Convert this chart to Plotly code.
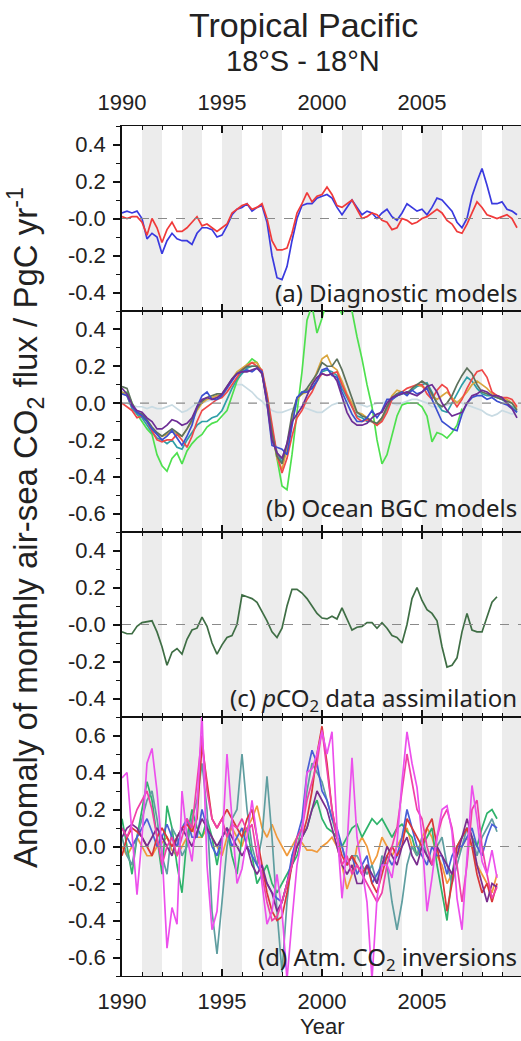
import numpy as np
import plotly.graph_objects as go
from plotly.subplots import make_subplots

# ---------------- data (quarterly) ----------------
start_year = 1990.0
step = 0.25
shade_years = list(range(1991, 2010, 2))
x_tick_years = [1990, 1995, 2000, 2005]
x_tick_text = ["1990", "1995", "2000", "2005"]

# (a) Diagnostic models
a_blue = [0.03, 0.04, 0.03, 0.04, 0.0, -0.11, -0.08, -0.1, -0.19, -0.12, -0.08, -0.11,
          -0.12, -0.12, -0.14, -0.08, -0.05, -0.05, -0.06, -0.1, -0.09, -0.04, 0.02, 0.05,
          0.06, 0.08, 0.04, 0.06, 0.07, -0.02, -0.2, -0.32, -0.33, -0.26, -0.12, 0.0,
          0.07, 0.08, 0.08, 0.11, 0.12, 0.13, 0.11, 0.06, 0.02, 0.06, 0.1, 0.06,
          0.02, 0.04, 0.03, 0.0, 0.03, 0.05, 0.01, -0.01, 0.03, 0.08, 0.06, 0.04,
          0.05, 0.02, 0.06, 0.11, 0.1, 0.07, 0.04, -0.02, -0.05, 0.0, 0.12, 0.2,
          0.27, 0.18, 0.08, 0.08, 0.09, 0.05, 0.04, 0.02]
a_red = [0.01, 0.0, 0.01, 0.01, -0.02, -0.09, 0.0, -0.05, -0.13, -0.06, -0.02, -0.07,
         -0.07, -0.05, -0.02, 0.01, -0.04, -0.03, -0.05, -0.07, -0.05, -0.03, 0.03, 0.05,
         0.07, 0.08, 0.05, 0.06, 0.08, 0.0, -0.12, -0.17, -0.17, -0.16, -0.08, 0.03,
         0.08, 0.14, 0.09, 0.12, 0.13, 0.17, 0.13, 0.07, 0.06, 0.08, 0.1, 0.05,
         0.0, 0.01, 0.03, 0.02, -0.01, -0.02, -0.06, -0.05, 0.0, -0.01, -0.03, -0.02,
         0.0, 0.01, 0.03, 0.05, 0.03, -0.01, -0.03, -0.07, -0.08, -0.03, 0.03, 0.09,
         0.06, 0.02, 0.01, 0.0, 0.01, 0.02, 0.0, -0.05]

# (b) Ocean BGC models
b_pale = [0.0, 0.0, -0.01, -0.02, -0.02, -0.03, -0.02, -0.03, -0.03, -0.02, -0.01, -0.03,
          -0.05, -0.04, -0.02, 0.0, 0.0, 0.01, 0.02, 0.03, 0.04, 0.06, 0.08, 0.1,
          0.1, 0.08, 0.06, 0.03, 0.01, -0.02, -0.04, -0.05, -0.05, -0.04, -0.03, -0.02,
          -0.02, -0.03, -0.04, -0.05, -0.05, -0.03, -0.01, 0.0, 0.0, 0.01, 0.0, 0.0,
          -0.01, -0.02, -0.01, 0.0, 0.0, 0.01, 0.0, -0.01, 0.0, 0.01, 0.02, 0.02,
          0.01, 0.0, -0.02, -0.02, -0.02, -0.01, 0.0, 0.01, 0.0, -0.01, -0.02, -0.03,
          -0.04, -0.06, -0.07, -0.06, -0.04, -0.05, -0.06, -0.05]
b_green = [0.05, 0.06, 0.0, -0.06, -0.1, -0.14, -0.17, -0.28, -0.34, -0.37, -0.3, -0.27,
           -0.33, -0.26, -0.22, -0.19, -0.17, -0.13, -0.11, -0.1, -0.07, -0.04, 0.04, 0.12,
           0.17, 0.21, 0.24, 0.22, 0.17, 0.04, -0.15, -0.3, -0.45, -0.47, -0.28, -0.05,
           0.17, 0.45, 0.53, 0.38, 0.46, 0.56, 0.6, 0.55, 0.48, 0.56, 0.5, 0.36,
           0.24, 0.1, -0.02, -0.2, -0.33, -0.28, -0.18, -0.07, -0.01, 0.0, 0.0, 0.0,
           -0.02, -0.07, -0.21, -0.16, -0.17, -0.19, -0.16, -0.12, -0.03, None, None, None,
           None, None, None, None, None, None, None, None]
b_blue = [0.05, 0.04, -0.02, -0.05, -0.07, -0.1, -0.14, -0.17, -0.2, -0.18, -0.15, -0.19,
          -0.23, -0.18, -0.12, -0.02, 0.04, 0.06, 0.02, 0.02, 0.04, 0.08, 0.12, 0.16,
          0.17, 0.18, 0.17, 0.19, 0.17, 0.0, -0.23, -0.24, -0.25, -0.28, -0.12, 0.03,
          0.06, 0.06, 0.08, 0.12, 0.18, 0.19, 0.15, 0.14, 0.06, 0.0, -0.06, -0.1,
          -0.1, -0.08, -0.04, -0.08, -0.04, 0.02, 0.02, 0.04, 0.06, 0.04, 0.07, 0.05,
          0.06, 0.08, 0.02, -0.04, -0.1, -0.12, -0.14, -0.15, -0.06, 0.0, 0.03, 0.04,
          0.04, 0.02, 0.03, 0.01, 0.0, -0.01, -0.03, -0.05]
b_red = [0.0, -0.02, -0.04, -0.08, -0.07, -0.1, -0.15, -0.2, -0.21, -0.2, -0.2, -0.17,
         -0.2, -0.24, -0.18, -0.1, -0.04, -0.02, 0.0, 0.02, 0.03, 0.06, 0.1, 0.14,
         0.18, 0.2, 0.22, 0.2, 0.18, 0.05, -0.12, -0.28, -0.38, -0.3, -0.18, -0.08,
         -0.04, 0.02, 0.06, 0.12, 0.16, 0.15, 0.16, 0.17, 0.1, 0.04, -0.02, -0.08,
         -0.1, -0.09, -0.1, -0.12, -0.1, -0.05, 0.02, 0.05, 0.06, 0.08, 0.09, 0.1,
         0.1, 0.05, 0.02, 0.07, 0.1, 0.08, 0.02, -0.02, 0.02, 0.08, 0.13, 0.17,
         0.18, 0.14, 0.06, 0.04, 0.03, 0.03, 0.02, -0.02]
b_orange = [0.06, 0.04, -0.02, -0.05, -0.06, -0.1, -0.14, -0.17, -0.18, -0.17, -0.15, -0.17,
            -0.18, -0.14, -0.1, -0.04, 0.0, 0.02, 0.03, 0.04, 0.04, 0.08, 0.13, 0.17,
            0.19, 0.21, 0.22, 0.22, 0.17, 0.03, -0.15, -0.3, -0.36, -0.25, -0.08, 0.02,
            0.05, 0.06, 0.1, 0.17, 0.24, 0.26, 0.2, 0.18, 0.12, 0.05, 0.0, -0.05,
            -0.06, -0.08, -0.1, -0.12, -0.08, -0.02, 0.04, 0.07, 0.06, 0.05, 0.08, 0.1,
            0.09, 0.08, 0.04, 0.02, 0.04, 0.06, 0.03, 0.0, 0.03, 0.06, 0.1, 0.12,
            0.1, 0.08, 0.05, 0.04, 0.03, 0.02, 0.0, -0.03]
b_purple = [0.08, 0.05, -0.01, -0.04, -0.05, -0.08, -0.1, -0.14, -0.14, -0.12, -0.09, -0.1,
            -0.12, -0.11, -0.08, -0.02, 0.02, 0.03, 0.02, 0.03, 0.05, 0.09, 0.13, 0.16,
            0.17, 0.17, 0.18, 0.19, 0.16, 0.0, -0.2, -0.27, -0.3, -0.22, -0.1, -0.06,
            -0.02, 0.04, 0.1, 0.14, 0.16, 0.15, 0.16, 0.12, 0.04, -0.05, -0.1, -0.12,
            -0.12, -0.11, -0.08, -0.06, -0.05, 0.0, 0.03, 0.04, 0.05, 0.06, 0.05, 0.04,
            0.06, 0.09, 0.1, 0.06, 0.0, -0.04, -0.07, -0.06, -0.05, 0.0, 0.04, 0.05,
            0.07, 0.06, 0.04, 0.04, 0.03, 0.0, -0.03, -0.08]
b_dkgray = [0.09, 0.08, 0.0, -0.05, -0.06, -0.09, -0.13, -0.16, -0.18, -0.16, -0.14, -0.16,
            -0.18, -0.14, -0.09, -0.03, 0.01, 0.03, 0.04, 0.05, 0.05, 0.09, 0.13, 0.16,
            0.18, 0.2, 0.2, 0.2, 0.16, 0.02, -0.16, -0.29, -0.33, -0.22, -0.06, 0.03,
            0.05, 0.08, 0.12, 0.16, 0.22, 0.2, 0.2, 0.24, 0.18, 0.1, 0.02, -0.05,
            -0.07, -0.08, -0.1, -0.11, -0.08, -0.02, 0.03, 0.05, 0.06, 0.05, 0.08, 0.1,
            0.12, 0.1, 0.05, 0.0, -0.02, 0.0, 0.04, 0.1, 0.15, 0.19, 0.16, 0.1,
            0.06, 0.05, 0.04, 0.03, 0.02, 0.01, 0.0, -0.04]
b_teal = [0.06, 0.04, -0.03, -0.06, -0.08, -0.12, -0.16, -0.19, -0.2, -0.22, -0.2, -0.24,
          -0.25, -0.2, -0.16, -0.12, -0.1, -0.1, -0.08, -0.07, -0.04, 0.02, 0.08, 0.13,
          0.16, 0.19, 0.2, 0.2, 0.16, 0.02, -0.15, -0.27, -0.32, -0.25, -0.1, 0.02,
          0.06, 0.07, 0.08, 0.12, 0.17, 0.18, 0.17, 0.15, 0.08, 0.03, -0.02, -0.07,
          -0.08, -0.1, -0.1, -0.12, -0.09, -0.03, 0.02, 0.04, 0.05, 0.06, 0.07, 0.09,
          0.1, 0.11, 0.06, 0.0, -0.04, -0.05, 0.0, 0.05, 0.1, 0.14, 0.12, 0.08,
          0.05, 0.04, 0.04, 0.03, 0.02, 0.0, -0.02, -0.05]

# (c) pCO2 data assimilation
c_green = [-0.04, -0.05, -0.05, -0.01, 0.01, 0.015, 0.02, -0.04, -0.12, -0.22, -0.15, -0.13,
           -0.16, -0.08, -0.03, -0.02, 0.04, -0.01, -0.1, -0.16, -0.11, -0.07, -0.06, 0.0,
           0.16, 0.15, 0.14, 0.12, 0.07, 0.02, -0.04, -0.07, -0.02, 0.1, 0.19, 0.19,
           0.17, 0.14, 0.1, 0.06, 0.035, 0.03, 0.045, 0.03, 0.09, 0.03, -0.03, -0.015,
           -0.01, 0.01, 0.01, -0.02, 0.01, -0.02, -0.06, -0.07, -0.1, 0.0, 0.14, 0.2,
           0.13, 0.08, 0.06, 0.02, -0.12, -0.23, -0.22, -0.18, -0.04, 0.06, -0.03, -0.04,
           -0.04, 0.04, 0.12, 0.15, None, None, None, None]

# (d) Atmospheric CO2 inversions
d_teal = [0.05, -0.05, -0.1, 0.05, 0.15, 0.25, 0.3, 0.15, -0.05, -0.15, 0.1, 0.05,
          -0.05, 0.0, 0.15, 0.25, 0.45, 0.2, -0.35, -0.58, -0.3, 0.0, 0.15, 0.2,
          0.5, 0.2, 0.0, -0.1, 0.05, 0.38, 0.05, -0.35, -0.68, -0.3, -0.05, 0.0,
          0.1, 0.3, 0.45, 0.4, 0.35, 0.25, 0.15, 0.05, 0.0, -0.1, -0.05, -0.05,
          -0.1, -0.15, -0.1, -0.2, -0.05, -0.1, -0.3, -0.45, -0.3, -0.1, 0.0, -0.05,
          0.05, -0.05, -0.1, 0.0, 0.05, -0.1, -0.2, -0.1, 0.0, 0.1, 0.05, -0.05,
          0.05, 0.1, 0.15, 0.08]
d_green = [0.15, 0.0, -0.15, 0.05, 0.2, 0.35, 0.25, 0.05, -0.15, 0.22, 0.1, -0.1,
           -0.25, 0.05, 0.2, 0.1, 0.05, 0.15, 0.05, -0.1, 0.05, 0.1, -0.05, -0.15,
           0.05, 0.1, -0.05, -0.2, -0.15, -0.1, -0.2, -0.25, -0.2, -0.15, -0.1, -0.05,
           0.05, 0.1, 0.2, 0.25, 0.15, 0.1, 0.08, 0.05, 0.0, 0.05, 0.1, 0.12,
           0.05, 0.1, 0.15, 0.12, 0.15, 0.1, 0.05, 0.1, 0.12, 0.08, 0.05, -0.05,
           0.0, 0.05, 0.1, -0.1, -0.25, -0.4, -0.15, 0.0, 0.05, 0.1, 0.05, 0.0,
           0.1, 0.18, 0.2, 0.15]
d_blue = [0.1, 0.05, 0.0, 0.05, 0.1, 0.15, 0.08, 0.0, 0.05, 0.12, 0.05, 0.0,
          0.1, 0.15, 0.05, 0.05, 0.2, 0.1, 0.0, -0.05, 0.05, 0.1, 0.0, 0.05,
          0.1, 0.0, -0.05, -0.1, -0.15, -0.2, -0.25, -0.28, -0.3, -0.2, -0.05, 0.05,
          0.15, 0.4, 0.52, 0.45, 0.3, 0.25, 0.15, 0.1, 0.0, -0.1, -0.05, -0.15,
          -0.1, -0.05, -0.2, -0.15, -0.1, -0.05, -0.1, -0.05, 0.05, 0.2, 0.1, 0.0,
          -0.05, -0.1, 0.0, -0.05, -0.05, -0.15, -0.05, 0.0, 0.0, 0.05, 0.1, 0.0,
          -0.05, 0.05, 0.12, 0.1]
d_orange = [0.0, -0.05, 0.0, 0.05, 0.0, -0.05, -0.05, 0.0, 0.02, 0.05, -0.02, -0.05,
            0.0, 0.05, 0.1, 0.05, 0.05, 0.1, 0.05, 0.0, -0.05, 0.05, 0.1, 0.05,
            0.0, 0.1, 0.15, 0.22, 0.1, 0.05, 0.12, 0.05, 0.0, -0.05, 0.0, 0.05,
            0.02, -0.02, -0.02, -0.03, 0.0, 0.02, 0.05, 0.0, -0.1, -0.23, -0.15, 0.0,
            0.05, 0.0, -0.1, -0.05, 0.05, 0.0, -0.05, 0.0, 0.05, 0.1, 0.0, -0.05,
            0.05, 0.1, 0.05, -0.05, -0.1, -0.2, -0.15, -0.05, 0.0, 0.05, 0.0, -0.1,
            -0.15, -0.2, -0.25, -0.15]
d_red = [-0.05, 0.05, 0.1, 0.08, 0.05, 0.0, -0.05, 0.05, 0.1, 0.05, 0.0, 0.05,
         0.1, 0.12, 0.08, 0.15, 0.55, 0.35, 0.15, 0.1, 0.15, 0.2, 0.15, 0.1,
         0.05, 0.15, 0.2, 0.05, -0.1, -0.25, -0.35, -0.4, -0.38, -0.25, -0.1, 0.0,
         0.05, 0.15, 0.3, 0.5, 0.65, 0.45, 0.2, 0.05, -0.05, -0.1, -0.05, -0.1,
         -0.15, -0.1, -0.2, -0.25, -0.15, -0.05, 0.0, -0.05, 0.0, 0.15, 0.1, 0.05,
         0.0, 0.1, 0.15, 0.0, -0.15, -0.35, -0.2, 0.0, 0.05, 0.1, 0.0, -0.15,
         -0.25, -0.2, -0.3, -0.2]
d_purple = [0.05, 0.1, 0.12, 0.1, 0.05, 0.0, 0.05, 0.1, 0.05, 0.0, -0.05, 0.05,
            0.1, 0.05, 0.0, 0.08, 0.15, 0.1, 0.05, 0.0, 0.05, 0.1, 0.05, 0.0,
            -0.05, 0.0, -0.1, -0.15, -0.1, -0.2, -0.25, -0.35, -0.3, -0.2, -0.1, 0.0,
            0.05, 0.1, 0.2, 0.3, 0.25, 0.2, 0.1, 0.0, -0.1, -0.15, -0.1, -0.2,
            -0.2, -0.1, -0.15, -0.2, -0.1, 0.0, -0.05, -0.1, 0.0, 0.05, -0.05, -0.1,
            0.0, -0.05, -0.1, 0.0, -0.05, -0.1, -0.15, -0.05, 0.05, 0.15, 0.05, -0.1,
            -0.2, -0.3, -0.2, -0.22]
d_pink = [0.1, 0.05, 0.12, 0.2, 0.25, 0.3, 0.2, 0.05, -0.1, 0.0, 0.05, -0.05,
          0.05, 0.15, 0.1, 0.35, 0.6, 0.3, 0.15, 0.1, 0.15, 0.05, 0.12, 0.1,
          0.15, 0.08, 0.12, -0.05, -0.15, -0.3, -0.4, -0.38, -0.3, -0.2, -0.1, 0.05,
          0.1, 0.25, 0.35, 0.45, 0.63, 0.4, 0.2, 0.05, -0.1, -0.05, -0.15, -0.1,
          -0.15, -0.2, -0.25, -0.3, -0.25, -0.1, 0.0, 0.1, 0.3, 0.5, 0.35, 0.2,
          0.15, 0.0, -0.1, 0.05, 0.15, 0.2, 0.1, -0.1, -0.3, -0.1, 0.2, 0.25,
          0.0, -0.15, -0.28, -0.22]
d_magenta = [0.37, 0.4, 0.07, -0.26, 0.05, 0.45, 0.53, 0.3, -0.02, -0.55, -0.33, -0.42,
             0.3, 0.05, -0.08, 0.2, 0.72, -0.1, -0.45, -0.35, 0.0, 0.5, 0.15, -0.2,
             -0.12, 0.05, 0.25, 0.05, -0.2, -0.42, -0.35, -0.15, -0.35, -0.72, -0.4, -0.1,
             0.05, 0.4, 0.42, 0.5, 0.62, 0.5, 0.62, 0.1, -0.28, 0.0, 0.48, 0.05,
             -0.12, -0.3, -0.72, -0.28, -0.1, -0.1, -0.17, 0.02, 0.35, 0.62, 0.45, 0.32,
             0.05, -0.35, -0.17, 0.05, 0.2, 0.22, 0.08, -0.28, -0.45, -0.05, 0.33, 0.15,
             -0.08, -0.15, -0.02, -0.17]

# ---------------- figure ----------------
def years(n):
    return start_year + step * np.arange(n)

W, H = 521, 1041
fig = make_subplots(rows=4, cols=1, shared_xaxes=True, vertical_spacing=0,
                    row_heights=[185, 221, 185, 259])

panel_a = [("blue", a_blue, "#3a3adf"), ("red", a_red, "#f03a3a")]
panel_b = [("pale", b_pale, "#c9dbe3"), ("green", b_green, "#4ee04e"),
           ("teal", b_teal, "#2f9fa8"), ("orange", b_orange, "#d9a63e"),
           ("red", b_red, "#f04848"), ("dkgray", b_dkgray, "#5d725d"),
           ("blue", b_blue, "#3c4fd0"), ("purple", b_purple, "#6d2d95")]
panel_c = [("green", c_green, "#3f6e45")]
panel_d = [("orange", d_orange, "#f09a3c"), ("green", d_green, "#2fb36b"),
           ("teal", d_teal, "#5f9ea0"), ("blue", d_blue, "#4a5fd6"),
           ("red", d_red, "#d9383a"), ("purple", d_purple, "#7b2d8f"),
           ("pink", d_pink, "#f040a8"), ("magenta", d_magenta, "#ec50ec")]

for row, panel in enumerate([panel_a, panel_b, panel_c, panel_d], start=1):
    for name, vals, col in panel:
        fig.add_trace(go.Scatter(x=years(len(vals)), y=vals, mode="lines", name=name,
                                 line=dict(color=col, width=1.7), showlegend=False,
                                 connectgaps=False),
                      row=row, col=1)

# shaded odd years
for yr in shade_years:
    fig.add_shape(type="rect", xref="x", yref="paper", x0=yr, x1=yr + 1, y0=0, y1=1,
                  fillcolor="#ececec", line=dict(width=0), layer="below")

# zero dashed lines
for row in range(1, 5):
    fig.add_hline(y=0, line=dict(color="#8a8a8a", width=1.2, dash="dash"), row=row, col=1)

tick_font = dict(family="Liberation Sans, Arial", size=22, color="#222")

y_specs = [
    ([-0.5, 0.5], [0.4, 0.2, 0.0, -0.2, -0.4], ["0.4", "0.2", "-0.0", "-0.2", "-0.4"]),
    ([-0.7, 0.5], [0.4, 0.2, 0.0, -0.2, -0.4, -0.6], ["0.4", "0.2", "0.0", "-0.2", "-0.4", "-0.6"]),
    ([-0.5, 0.5], [0.4, 0.2, 0.0, -0.2, -0.4], ["0.4", "0.2", "-0.0", "-0.2", "-0.4"]),
    ([-0.7, 0.7], [0.6, 0.4, 0.2, 0.0, -0.2, -0.4, -0.6],
     ["0.6", "0.4", "0.2", "0.0", "-0.2", "-0.4", "-0.6"]),
]
for row, (rng, tv, tt) in enumerate(y_specs, start=1):
    fig.update_yaxes(range=rng, tickmode="array", tickvals=tv, ticktext=tt,
                     ticks="outside", ticklen=7, tickwidth=1.5, tickcolor="#111",
                     minor=dict(tickmode="linear", tick0=0, dtick=0.1, ticks="outside",
                                ticklen=4, tickwidth=1.2, tickcolor="#111"),
                     showline=True, linecolor="#111", linewidth=1.5, mirror=False,
                     showgrid=False, zeroline=False, tickfont=tick_font,
                     ticklabelstandoff=3, row=row, col=1)

for row in range(1, 5):
    fig.update_xaxes(range=[1990, 2009.95], tickmode="array", tickvals=x_tick_years,
                     ticktext=x_tick_text, ticks="inside", ticklen=7, tickwidth=1.5,
                     tickcolor="#111",
                     minor=dict(tickmode="linear", tick0=1990, dtick=1, ticks="inside",
                                ticklen=4, tickwidth=1.2, tickcolor="#111"),
                     showline=True, linecolor="#111", linewidth=1.1, mirror="ticks",
                     showgrid=False, zeroline=False, tickfont=tick_font,
                     ticklabelstandoff=6, row=row, col=1)
fig.update_xaxes(side="top", showticklabels=True, row=1, col=1)
fig.update_xaxes(showticklabels=True, row=4, col=1)

label_font = dict(family="Noto Sans, Open Sans", size=24, color="#222")
panel_labels = [
    ("(a) Diagnostic models", 1, 0.10),
    ("(b) Ocean BGC models", 2, 0.11),
    ("(c) <i>p</i>CO<sub>2</sub> data assimilation", 3, 0.10),
    ("(d) Atm. CO<sub>2</sub> inversions", 4, 0.07),
]
for text, row, yy in panel_labels:
    yref = "y domain" if row == 1 else f"y{row} domain"
    xref = "x domain" if row == 1 else f"x{row} domain"
    fig.add_annotation(text=text, xref=xref, yref=yref, x=0.995, y=yy,
                       xanchor="right", yanchor="middle", showarrow=False, font=label_font)

title_font = dict(family="Liberation Sans, Arial", color="#222")
fig.add_annotation(text="Tropical Pacific", xref="paper", yref="paper", x=0.454,
                   y=(976 - 25) / 850, xanchor="center", yanchor="middle", showarrow=False,
                   font=dict(size=34, **title_font))
fig.add_annotation(text="18°S - 18°N", xref="paper", yref="paper", x=0.454,
                   y=(976 - 61) / 850, xanchor="center", yanchor="middle", showarrow=False,
                   font=dict(size=29, **title_font))
fig.add_annotation(text="Year", xref="paper", yref="paper", x=0.5,
                   y=(976 - 1041) / 850, xanchor="center", yanchor="bottom", showarrow=False,
                   font=dict(size=22, **title_font))
fig.add_annotation(text="Anomaly of monthly air-sea CO<sub>2</sub> flux / PgC yr<sup>-1</sup>",
                   xref="paper", yref="paper", x=(25 - 122) / 399, y=(976 - 528) / 850,
                   xanchor="center", yanchor="middle", textangle=-90, showarrow=False,
                   font=dict(size=33, **title_font))

fig.update_layout(width=W, height=H, margin=dict(l=122, r=0, t=126, b=65),
                  paper_bgcolor="white", plot_bgcolor="white", showlegend=False)

fig.write_html("out.html")
